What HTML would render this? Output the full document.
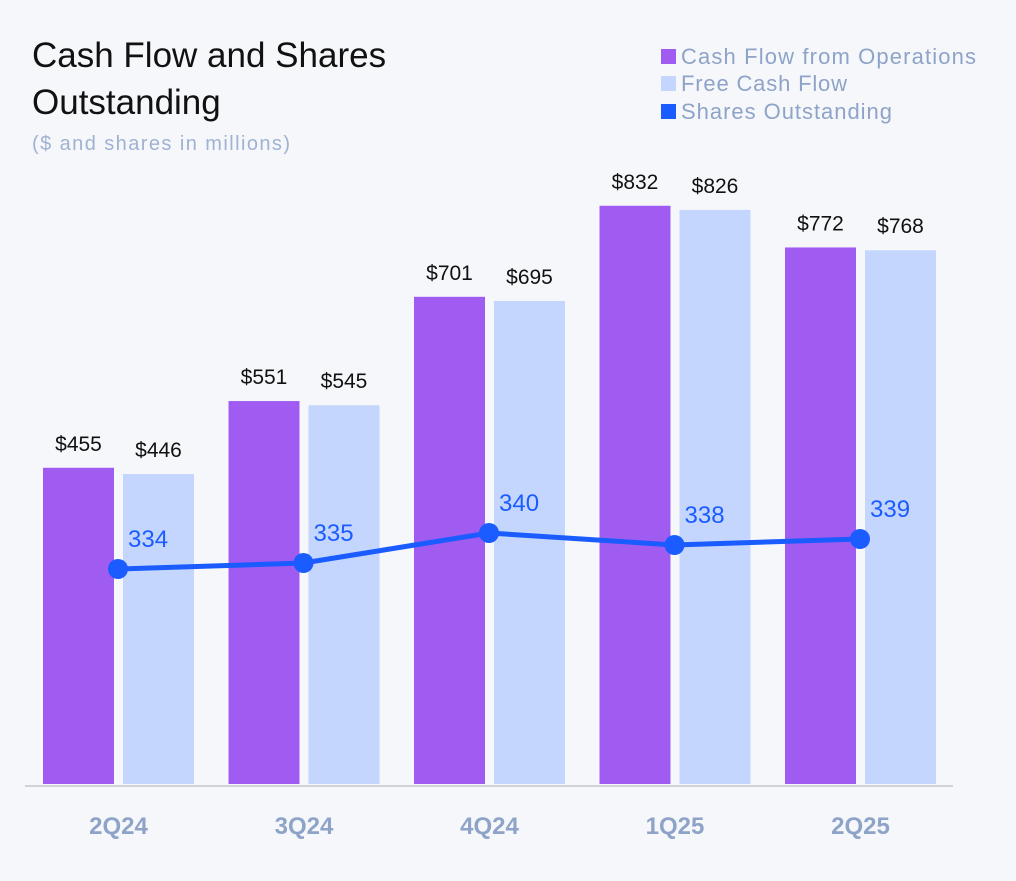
<!DOCTYPE html>
<html><head><meta charset="utf-8"><style>
body{margin:0;background:#f6f7fb;font-family:"Liberation Sans",sans-serif;}
svg{display:block}
</style></head><body>
<svg width="1016" height="881" viewBox="0 0 1016 881">
<rect width="1016" height="881" fill="#f6f7fb"/>
<text x="32" y="67" font-size="35" fill="#111">Cash Flow and Shares</text>
<text x="32" y="114" font-size="35" fill="#111">Outstanding</text>
<text x="32" y="150" font-size="20" fill="#9fb2d2" textLength="258">($ and shares in millions)</text>
<g>
<rect x="661" y="49" width="15" height="15" fill="#a05cf0"/>
<text x="681" y="64" font-size="22" fill="#8ea3c8" textLength="295">Cash Flow from Operations</text>
<rect x="661" y="76" width="15" height="15" fill="#c4d6fe"/>
<text x="681" y="91" font-size="22" fill="#8ea3c8" textLength="166">Free Cash Flow</text>
<rect x="661" y="104" width="15" height="15" fill="#1a5cff"/>
<text x="681" y="119" font-size="22" fill="#8ea3c8" textLength="211">Shares Outstanding</text>
</g>
<g id="plot"></g>
</svg>
<script>
const categories=["2Q24","3Q24","4Q24","1Q25","2Q25"];
const cfo=[455,551,701,832,772];
const fcf=[446,545,695,826,768];
const shares=[334,335,340,338,339];
const NS="http://www.w3.org/2000/svg";
const g=document.getElementById('plot');
const base=784, k=0.695;
function yBar(v){return base-v*k;}
function yLine(v){return 569-(v-334)*6;}
function xGroup(i){return 43+i*185.5;}
function mk(t,a,txt){const e=document.createElementNS(NS,t);for(const n in a)e.setAttribute(n,a[n]);if(txt!==undefined)e.textContent=txt;g.appendChild(e);return e;}
categories.forEach((c,i)=>{
 const x=xGroup(i);
 let b=mk('rect',{x:x,y:yBar(cfo[i]),width:71,height:base-yBar(cfo[i]),fill:'#a05cf0'});
 
 
 let b2=mk('rect',{x:x+80,y:yBar(fcf[i]),width:71,height:base-yBar(fcf[i]),fill:'#c4d6fe'});
 
 
 let t1=mk('text',{x:x+35.5,y:yBar(cfo[i])-17,'font-size':21,'text-anchor':'middle',fill:'#111'},'$'+cfo[i]);
 
 
 let t2=mk('text',{x:x+115.5,y:yBar(fcf[i])-17,'font-size':21,'text-anchor':'middle',fill:'#111'},'$'+fcf[i]);
 
 
 let cl=mk('text',{x:x+75.5,y:834,'font-size':24,'font-weight':'bold','text-anchor':'middle',fill:'#8ea3c8'},c);
 
 
});
let ax=mk('line',{x1:25,y1:786,x2:953,y2:786,stroke:'#cfd2d8','stroke-width':2});


const pts=shares.map((v,i)=>(xGroup(i)+75)+','+yLine(v)).join(' ');
let pl=mk('polyline',{points:pts,fill:'none',stroke:'#1a5cff','stroke-width':5});


shares.forEach((v,i)=>{
 let c=mk('circle',{cx:xGroup(i)+75,cy:yLine(v),r:10,fill:'#1a5cff'});
 
 
 let t=mk('text',{x:xGroup(i)+85,y:yLine(v)-22,'font-size':24,fill:'#1a5cff'},String(v));
 
 
});
</script>
</body></html>
